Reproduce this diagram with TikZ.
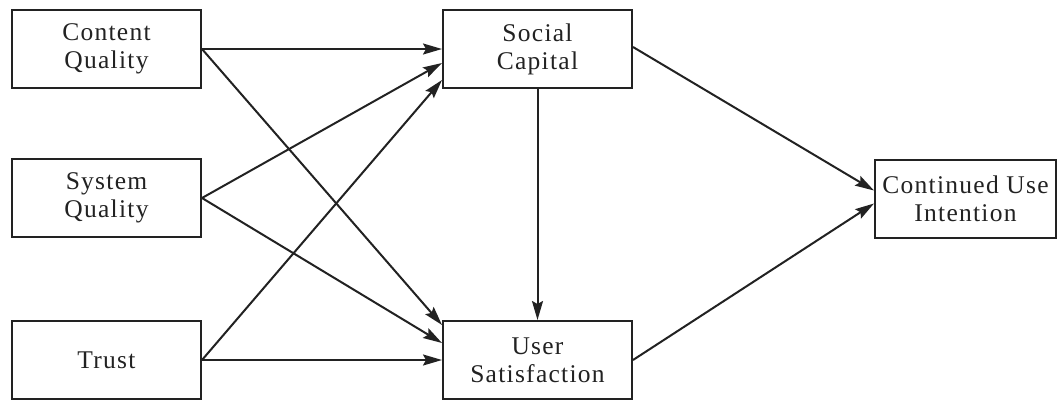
\documentclass[tikz,border=0pt]{standalone}
\usepackage{fontspec}
\setmainfont[LetterSpace=5]{Liberation Serif}
\usetikzlibrary{arrows.meta}
\definecolor{ink}{HTML}{222222}
\begin{document}
\begin{tikzpicture}[x=1pt,y=-1pt,
  box/.style={draw=ink,line width=2pt,minimum width=189pt,minimum height=78pt,
    align=center,inner sep=0pt,text=ink,font=\fontsize{25.5pt}{28pt}\selectfont},
  conn/.style={draw=ink,line width=2pt,-{Stealth[length=19pt,width=11pt,inset=3pt]}}]
\useasboundingbox (0,0) rectangle (1058,400);
\node[box] (cq) at (106.5,49) {Content\\Quality};
\node[box] (sq) at (106.5,198) {System\\Quality};
\node[box] (tr) at (106.5,360) {Trust};
\node[box] (sc) at (537.5,49) {Social\\Capital};
\node[box] (us) at (537.5,360) {User\\Satisfaction};
\node[box,minimum width=181pt] (cui) at (965.5,198.5) {Continued Use\\Intention};
% to Social Capital
\draw[conn] (cq.east) -- (sc.west);
\draw[conn] (sq.east) -- ([yshift=-14pt]sc.west);
\draw[conn] (tr.east) -- ([yshift=-31pt]sc.west);
% to User Satisfaction
\draw[conn] (cq.east) -- ([yshift=35pt]us.west);
\draw[conn] (sq.east) -- ([yshift=17pt]us.west);
\draw[conn] (tr.east) -- (us.west);
% SC -> US
\draw[conn] (sc.south) -- (us.north);
% to CUI
\draw[conn] ([yshift=2pt]sc.east) -- ([yshift=8pt]cui.west);
\draw[conn] (us.east) -- ([yshift=-5pt]cui.west);
\end{tikzpicture}
\end{document}
